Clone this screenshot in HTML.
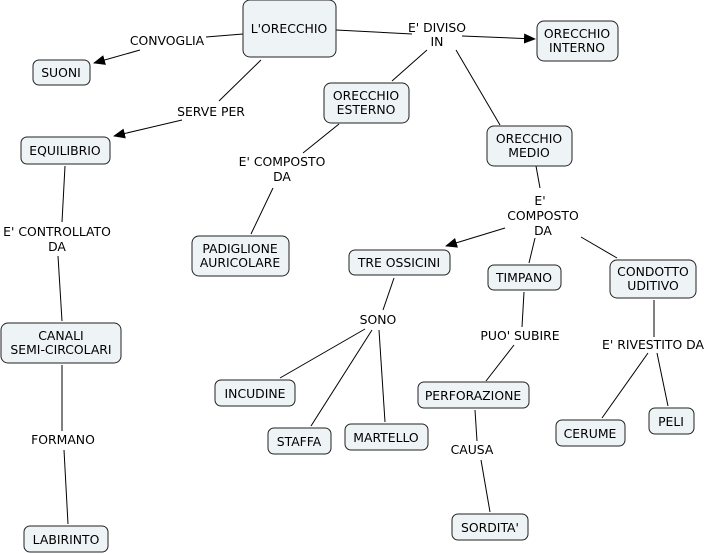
<!DOCTYPE html>
<html><head><style>
body{margin:0;background:#fff}
svg{display:block}
text{font-family:"DejaVu Sans","Liberation Sans",sans-serif;font-size:12.4px;fill:#000;text-anchor:middle}
rect{fill:#eef3f5;stroke:#222;stroke-width:1}
line{stroke:#000;stroke-width:1}
</style></head><body>
<svg width="709" height="554" viewBox="0 0 709 554">
<defs><marker id="a" markerWidth="12" markerHeight="10" refX="11" refY="5" orient="auto" markerUnits="userSpaceOnUse"><path d="M0,0 L12,5 L0,10z" fill="#000"/></marker></defs>
<line x1="243" y1="34" x2="206" y2="37"/>
<line x1="140" y1="50" x2="94" y2="63" marker-end="url(#a)"/>
<line x1="261" y1="60" x2="219" y2="101"/>
<line x1="182" y1="120" x2="114" y2="136" marker-end="url(#a)"/>
<line x1="336" y1="30" x2="412" y2="34"/>
<line x1="462" y1="36" x2="535" y2="39" marker-end="url(#a)"/>
<line x1="427" y1="50" x2="392" y2="81"/>
<line x1="456" y1="50" x2="500" y2="125"/>
<line x1="339" y1="124" x2="303" y2="153"/>
<line x1="273" y1="188" x2="251" y2="234"/>
<line x1="536" y1="166" x2="540" y2="188"/>
<line x1="505" y1="228" x2="446" y2="246" marker-end="url(#a)"/>
<line x1="535" y1="238" x2="529" y2="263"/>
<line x1="581" y1="237" x2="617" y2="258"/>
<line x1="394" y1="278" x2="383" y2="310"/>
<line x1="365" y1="329" x2="280" y2="378"/>
<line x1="372" y1="330" x2="311" y2="426"/>
<line x1="379" y1="330" x2="385" y2="422"/>
<line x1="524" y1="292" x2="522" y2="327"/>
<line x1="514" y1="345" x2="486" y2="381"/>
<line x1="654" y1="300" x2="654" y2="337"/>
<line x1="648" y1="353" x2="602" y2="418"/>
<line x1="657" y1="353" x2="668" y2="406"/>
<line x1="475" y1="410" x2="477" y2="441"/>
<line x1="481" y1="460" x2="490" y2="512"/>
<line x1="65" y1="166" x2="62" y2="222"/>
<line x1="58" y1="256" x2="62" y2="321"/>
<line x1="62" y1="365" x2="62" y2="431"/>
<line x1="64" y1="450" x2="68" y2="524"/>
<text x="167" y="45">CONVOGLIA</text>
<text x="437" y="32">E' DIVISO</text><text x="437" y="46">IN</text>
<text x="211" y="116">SERVE PER</text>
<text x="282" y="166">E' COMPOSTO</text><text x="282" y="181">DA</text>
<text x="540" y="205">E'</text><text x="543" y="220">COMPOSTO</text><text x="543" y="235">DA</text>
<text x="57" y="236">E' CONTROLLATO</text><text x="57" y="251">DA</text>
<text x="378" y="324">SONO</text>
<text x="520" y="340">PUO' SUBIRE</text>
<text x="653" y="349">E' RIVESTITO DA</text>
<text x="63" y="444">FORMANO</text>
<text x="472" y="454">CAUSA</text>
<rect x="243" y="0" width="93" height="57" rx="7"/><text x="289" y="33">L'ORECCHIO</text>
<rect x="33" y="60" width="57" height="25" rx="6"/><text x="61" y="77">SUONI</text>
<rect x="537" y="21" width="81" height="40" rx="7"/><text x="577" y="38">ORECCHIO</text><text x="577" y="52">INTERNO</text>
<rect x="324" y="83" width="85" height="40" rx="7"/><text x="366" y="100">ORECCHIO</text><text x="366" y="114">ESTERNO</text>
<rect x="487" y="126" width="85" height="40" rx="7"/><text x="529" y="143">ORECCHIO</text><text x="529" y="157">MEDIO</text>
<rect x="21" y="137" width="89" height="27" rx="6"/><text x="65" y="155">EQUILIBRIO</text>
<rect x="192" y="236" width="97" height="40" rx="7"/><text x="240" y="253">PADIGLIONE</text><text x="240" y="267">AURICOLARE</text>
<rect x="349" y="250" width="101" height="25" rx="6"/><text x="399" y="267">TRE OSSICINI</text>
<rect x="488" y="265" width="73" height="25" rx="6"/><text x="524" y="282">TIMPANO</text>
<rect x="610" y="260" width="86" height="38" rx="7"/><text x="653" y="276">CONDOTTO</text><text x="653" y="290">UDITIVO</text>
<rect x="1" y="323" width="120" height="40" rx="7"/><text x="61" y="340">CANALI</text><text x="61" y="354">SEMI-CIRCOLARI</text>
<rect x="215" y="380" width="80" height="26" rx="6"/><text x="255" y="398">INCUDINE</text>
<rect x="268" y="428" width="63" height="26" rx="6"/><text x="299" y="446">STAFFA</text>
<rect x="345" y="424" width="83" height="26" rx="6"/><text x="386" y="442">MARTELLO</text>
<rect x="418" y="382" width="111" height="26" rx="6"/><text x="473" y="400">PERFORAZIONE</text>
<rect x="556" y="420" width="69" height="26" rx="6"/><text x="590" y="438">CERUME</text>
<rect x="649" y="408" width="45" height="26" rx="6"/><text x="671" y="426">PELI</text>
<rect x="452" y="514" width="76" height="26" rx="6"/><text x="490" y="532">SORDITA'</text>
<rect x="24" y="526" width="84" height="26" rx="6"/><text x="66" y="544">LABIRINTO</text>
</svg>
</body></html>
